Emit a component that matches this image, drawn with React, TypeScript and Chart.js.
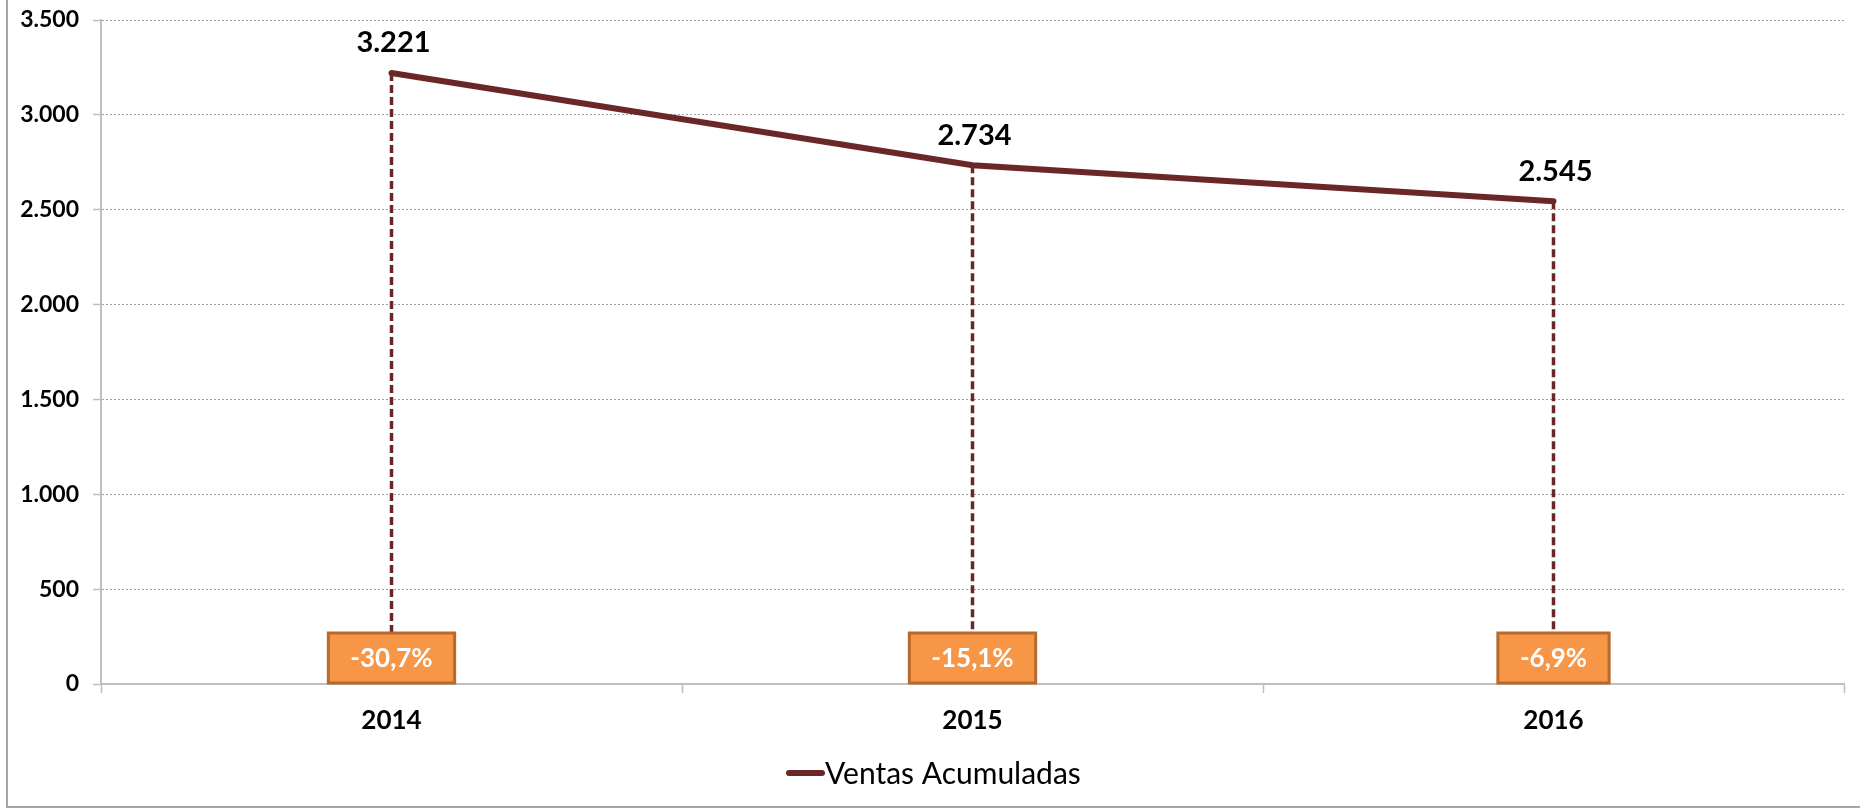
import React, { useEffect, useRef } from "react";
import { Chart, registerables } from "chart.js";

Chart.register(...registerables);

const categories: string[] = ["2014", "2015", "2016"];
const ventas: number[] = [3221, 2734, 2545];
const variaciones: number[] = [-30.7, -15.1, -6.9];
const seriesName = "Ventas Acumuladas";
const yTicks: number[] = [0, 500, 1000, 1500, 2000, 2500, 3000, 3500];

const LINE_COLOR = "#6a2727";
const FONT = "Lato, 'Open Sans', sans-serif";

const fmtThousands = (v: number) =>
  String(Math.round(v)).replace(/\B(?=(\d{3})+(?!\d))/g, ".");
const fmtPct = (v: number) => v.toFixed(1).replace(".", ",") + "%";

const decorPlugin = {
  id: "decor",
  beforeDraw(chart: any) {
    const { ctx, width, height } = chart;
    ctx.save();
    ctx.fillStyle = "#ffffff";
    ctx.fillRect(0, 0, width, height);
    ctx.strokeStyle = "#a6a6a6";
    ctx.lineWidth = 2;
    ctx.beginPath();
    ctx.moveTo(7, -5);
    ctx.lineTo(7, 807);
    ctx.lineTo(width + 5, 807);
    ctx.stroke();
    ctx.restore();
  },
  beforeDatasetsDraw(chart: any) {
    const { ctx, chartArea } = chart;
    const meta = chart.getDatasetMeta(0);
    ctx.save();
    ctx.strokeStyle = LINE_COLOR;
    ctx.lineWidth = 3.5;
    ctx.setLineDash([8, 4]);
    meta.data.forEach((pt: any) => {
      ctx.beginPath();
      ctx.moveTo(pt.x, pt.y);
      ctx.lineTo(pt.x, chartArea.bottom - 50);
      ctx.stroke();
    });
    ctx.restore();
  },
  afterDatasetsDraw(chart: any) {
    const { ctx, chartArea } = chart;
    const meta = chart.getDatasetMeta(0);
    ctx.save();
    // value labels
    ctx.font = `bold 29px ${FONT}`;
    ctx.fillStyle = "#000000";
    ctx.textAlign = "center";
    ctx.textBaseline = "middle";
    meta.data.forEach((pt: any, i: number) => {
      ctx.fillText(fmtThousands(ventas[i]), pt.x + 2, pt.y - 30);
    });
    // variation boxes
    ctx.font = `bold 26px ${FONT}`;
    meta.data.forEach((pt: any, i: number) => {
      const txt = fmtPct(variaciones[i]);
      const tw = ctx.measureText(txt).width;
      const w = tw + 44;
      const h = 50;
      const x = pt.x - w / 2;
      const y = chartArea.bottom - h - 1;
      ctx.fillStyle = "#f79646";
      ctx.fillRect(x, y, w, h);
      ctx.strokeStyle = "#b8692c";
      ctx.lineWidth = 3;
      ctx.setLineDash([]);
      ctx.strokeRect(x, y, w, h);
      ctx.fillStyle = "#ffffff";
      ctx.textAlign = "center";
      ctx.textBaseline = "middle";
      ctx.fillText(txt, pt.x, y + h / 2 + 1);
    });
    // legend
    ctx.strokeStyle = LINE_COLOR;
    ctx.lineWidth = 6;
    ctx.lineCap = "round";
    ctx.beginPath();
    ctx.moveTo(789, 773);
    ctx.lineTo(822, 773);
    ctx.stroke();
    ctx.font = `30px ${FONT}`;
    ctx.fillStyle = "#000000";
    ctx.textAlign = "left";
    ctx.textBaseline = "middle";
    ctx.fillText(seriesName, 825, 774);
    ctx.restore();
  },
};

export default function App() {
  const canvasRef = useRef<HTMLCanvasElement | null>(null);

  useEffect(() => {
    document.body.style.margin = "0";
    const canvas = canvasRef.current;
    if (!canvas) return;
    const chart = new Chart(canvas, {
      type: "line",
      data: {
        labels: categories,
        datasets: [
          {
            label: seriesName,
            data: ventas,
            borderColor: LINE_COLOR,
            backgroundColor: LINE_COLOR,
            borderWidth: 6,
            pointRadius: 0,
            tension: 0,
            borderCapStyle: "round",
          },
        ],
      },
      options: {
        responsive: false,
        animation: false,
        layout: { padding: { top: 20, left: 0, right: 16, bottom: 0 } },
        plugins: {
          legend: { display: false },
          tooltip: { enabled: false },
        },
        scales: {
          x: {
            type: "category",
            offset: true,
            grid: {
              display: true,
              offset: true,
              drawOnChartArea: false,
              drawTicks: true,
              tickLength: 9,
              tickColor: "#bfbfbf",
              tickWidth: 1.5,
            },
            border: { display: true, color: "#bfbfbf", width: 2 },
            ticks: {
              color: "#000000",
              font: { family: FONT, size: 26, weight: "bold" },
              padding: 12,
              maxRotation: 0,
            },
            afterFit: (scale: any) => {
              scale.height = 125;
            },
          },
          y: {
            min: 0,
            max: 3500,
            afterBuildTicks: (scale: any) => {
              scale.ticks = yTicks.map((v) => ({ value: v }));
            },
            grid: {
              color: "#a0a0a0",
              lineWidth: 1,
              tickLength: 8,
              tickColor: "#bfbfbf",
              tickWidth: 1.5,
            },
            border: { display: true, color: "#bfbfbf", width: 2, dash: [2, 2] },
            ticks: {
              color: "#000000",
              font: { family: FONT, size: 23, weight: "bold" },
              padding: 14,
              callback: (v: any) => fmtThousands(Number(v)),
            },
            afterFit: (scale: any) => {
              scale.width = 101;
              scale.paddingTop = 0;
              scale.paddingBottom = 0;
            },
          },
        },
      },
      plugins: [decorPlugin],
    });
    return () => chart.destroy();
  }, []);

  return (
    <div style={{ width: 1860, height: 809 }}>
      <canvas ref={canvasRef} width={1860} height={809} style={{ display: "block" }} />
    </div>
  );
}
